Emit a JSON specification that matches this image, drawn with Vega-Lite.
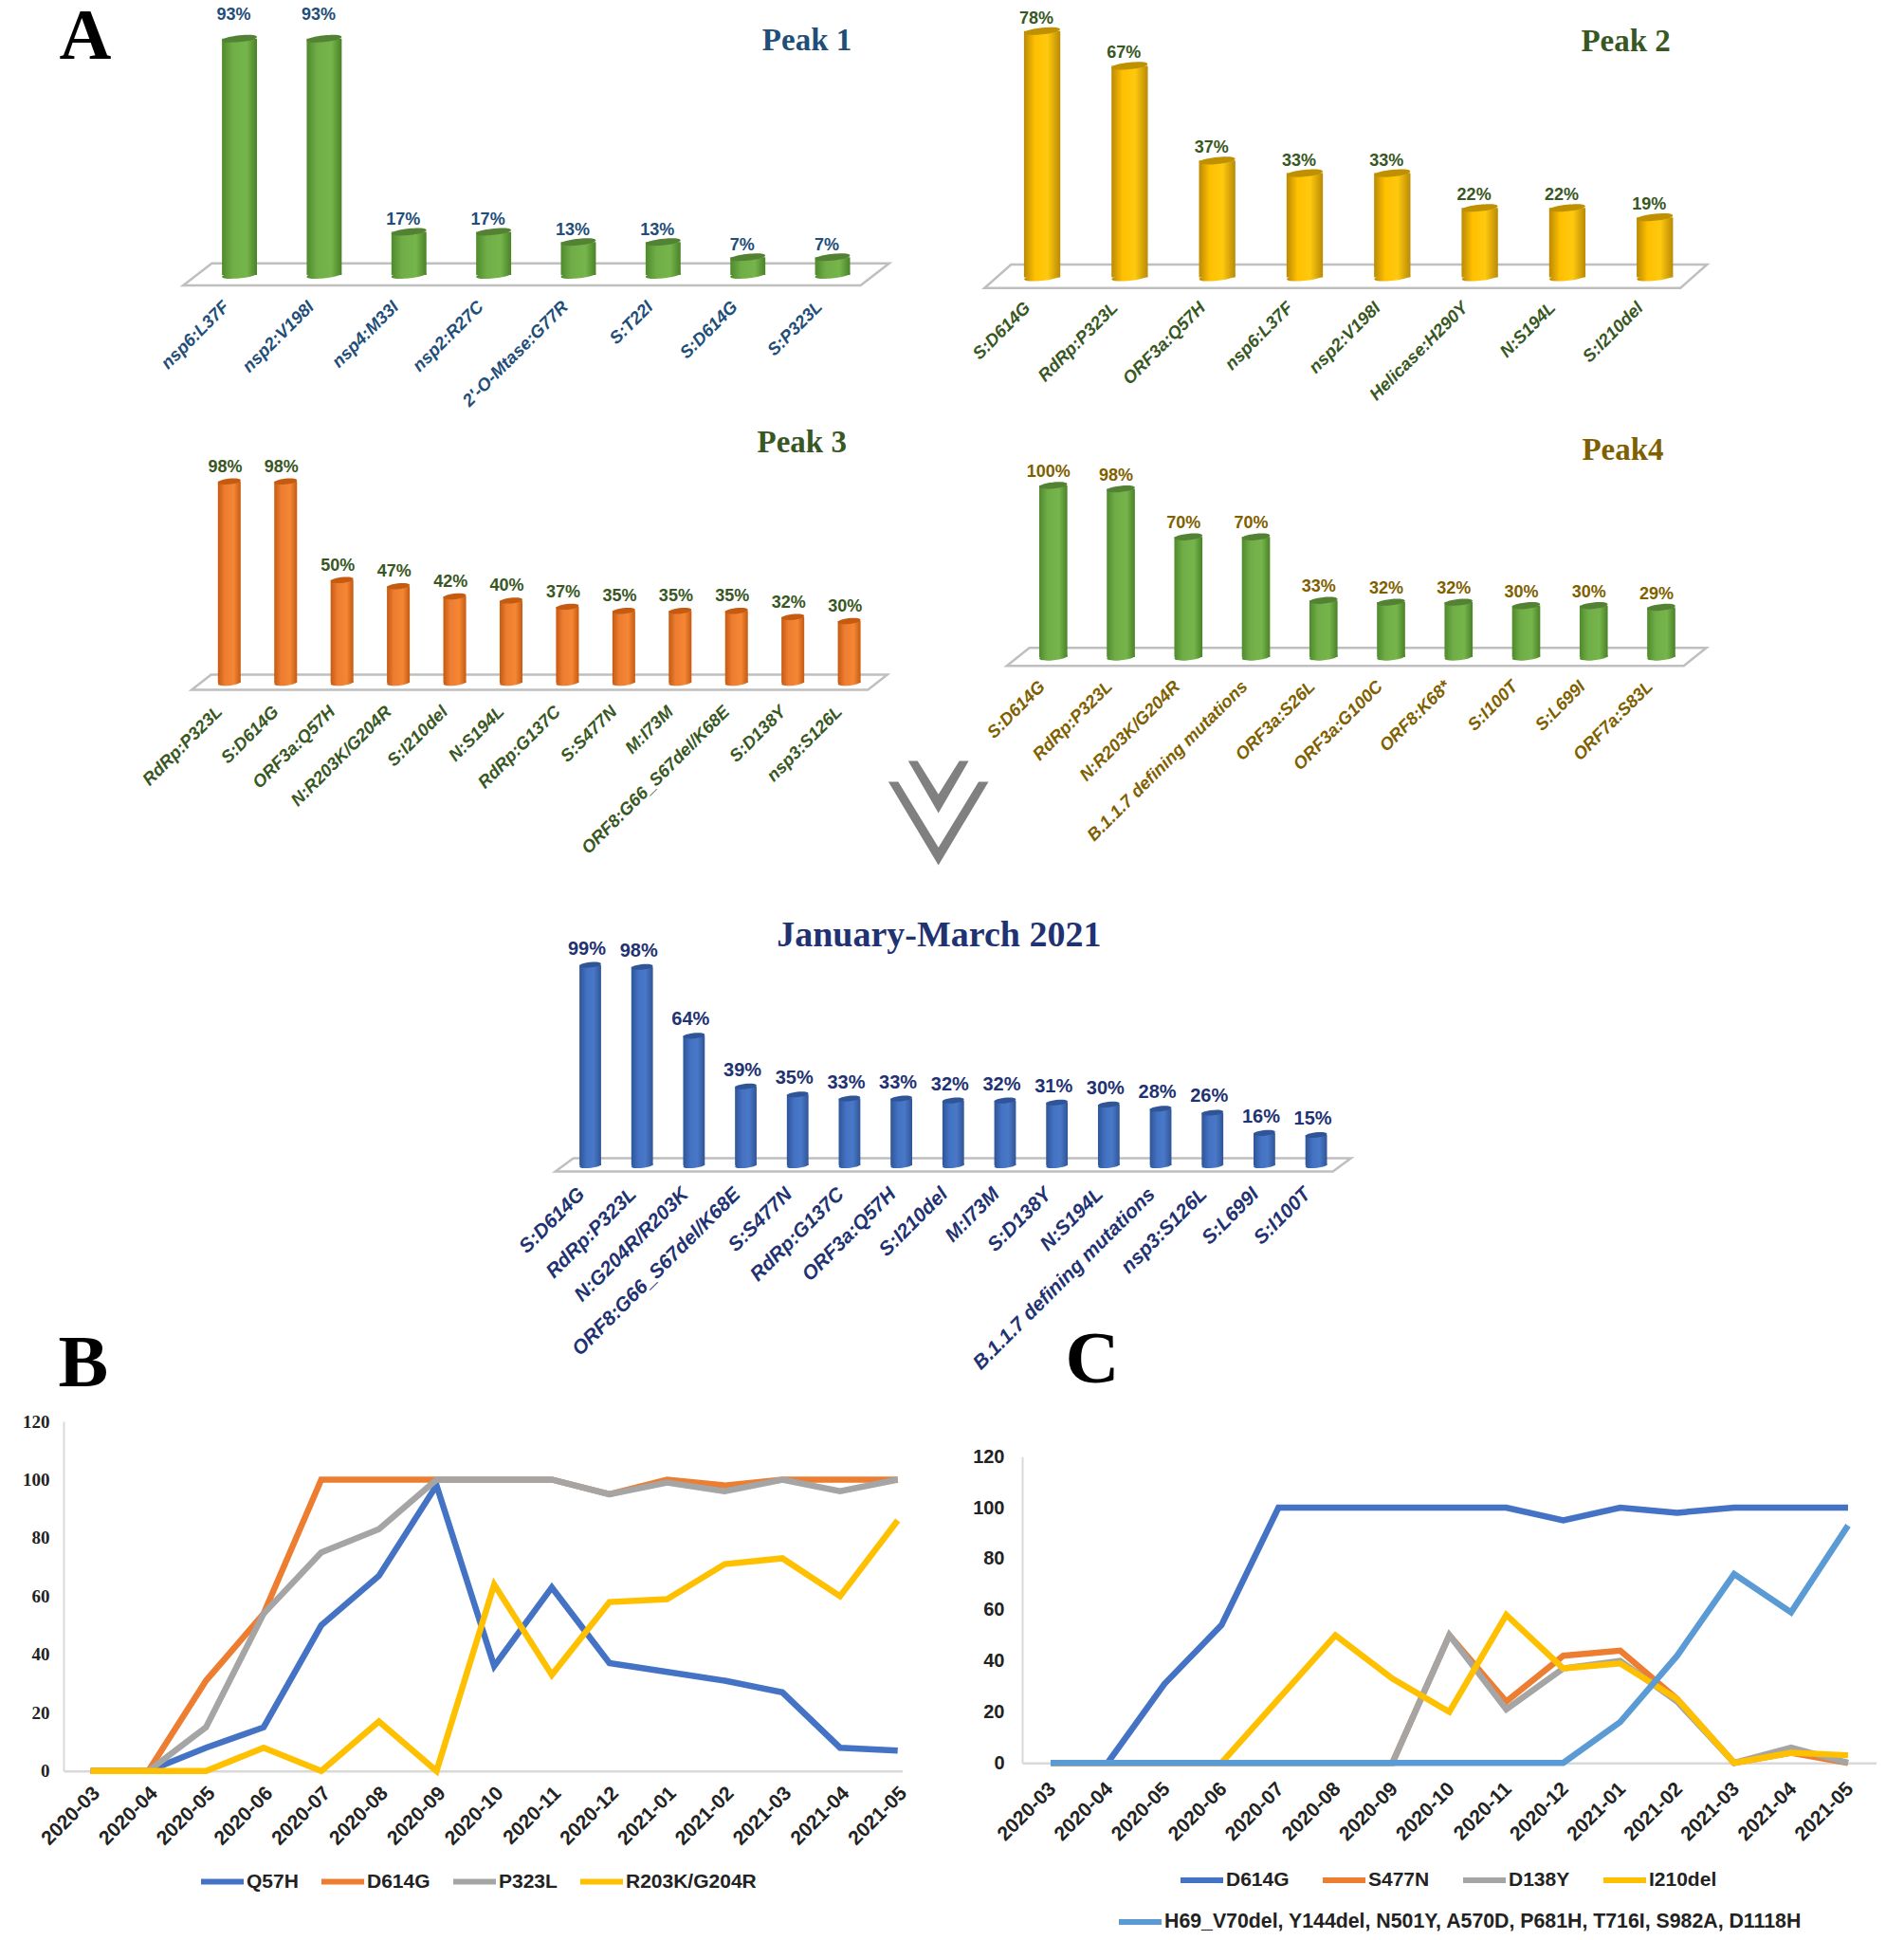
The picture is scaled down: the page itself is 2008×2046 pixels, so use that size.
{"$schema":"https://vega.github.io/schema/vega-lite/v6.json","background":"white","padding":{"left":23,"top":0,"right":0,"bottom":0},"columns":2,"bounds":"flush","spacing":0,"config":{"view":{"stroke":null}},
"datasets":{
"lineB":[
{"month":"2020-03","series":"Q57H","pct":0},{"month":"2020-04","series":"Q57H","pct":0},{"month":"2020-05","series":"Q57H","pct":8},{"month":"2020-06","series":"Q57H","pct":15},{"month":"2020-07","series":"Q57H","pct":50},{"month":"2020-08","series":"Q57H","pct":67},{"month":"2020-09","series":"Q57H","pct":98},{"month":"2020-10","series":"Q57H","pct":36},{"month":"2020-11","series":"Q57H","pct":63},{"month":"2020-12","series":"Q57H","pct":37},{"month":"2021-01","series":"Q57H","pct":34},{"month":"2021-02","series":"Q57H","pct":31},{"month":"2021-03","series":"Q57H","pct":27},{"month":"2021-04","series":"Q57H","pct":8},{"month":"2021-05","series":"Q57H","pct":7},
{"month":"2020-03","series":"D614G","pct":0},{"month":"2020-04","series":"D614G","pct":0},{"month":"2020-05","series":"D614G","pct":31},{"month":"2020-06","series":"D614G","pct":54},{"month":"2020-07","series":"D614G","pct":100},{"month":"2020-08","series":"D614G","pct":100},{"month":"2020-09","series":"D614G","pct":100},{"month":"2020-10","series":"D614G","pct":100},{"month":"2020-11","series":"D614G","pct":100},{"month":"2020-12","series":"D614G","pct":95},{"month":"2021-01","series":"D614G","pct":100},{"month":"2021-02","series":"D614G","pct":98},{"month":"2021-03","series":"D614G","pct":100},{"month":"2021-04","series":"D614G","pct":100},{"month":"2021-05","series":"D614G","pct":100},
{"month":"2020-03","series":"P323L","pct":0},{"month":"2020-04","series":"P323L","pct":0},{"month":"2020-05","series":"P323L","pct":15},{"month":"2020-06","series":"P323L","pct":54},{"month":"2020-07","series":"P323L","pct":75},{"month":"2020-08","series":"P323L","pct":83},{"month":"2020-09","series":"P323L","pct":100},{"month":"2020-10","series":"P323L","pct":100},{"month":"2020-11","series":"P323L","pct":100},{"month":"2020-12","series":"P323L","pct":95},{"month":"2021-01","series":"P323L","pct":99},{"month":"2021-02","series":"P323L","pct":96},{"month":"2021-03","series":"P323L","pct":100},{"month":"2021-04","series":"P323L","pct":96},{"month":"2021-05","series":"P323L","pct":100},
{"month":"2020-03","series":"R203K/G204R","pct":0},{"month":"2020-04","series":"R203K/G204R","pct":0},{"month":"2020-05","series":"R203K/G204R","pct":0},{"month":"2020-06","series":"R203K/G204R","pct":8},{"month":"2020-07","series":"R203K/G204R","pct":0},{"month":"2020-08","series":"R203K/G204R","pct":17},{"month":"2020-09","series":"R203K/G204R","pct":0},{"month":"2020-10","series":"R203K/G204R","pct":64},{"month":"2020-11","series":"R203K/G204R","pct":33},{"month":"2020-12","series":"R203K/G204R","pct":58},{"month":"2021-01","series":"R203K/G204R","pct":59},{"month":"2021-02","series":"R203K/G204R","pct":71},{"month":"2021-03","series":"R203K/G204R","pct":73},{"month":"2021-04","series":"R203K/G204R","pct":60},{"month":"2021-05","series":"R203K/G204R","pct":86}],
"lineC":[
{"month":"2020-03","series":"D614G","pct":0},{"month":"2020-04","series":"D614G","pct":0},{"month":"2020-05","series":"D614G","pct":31},{"month":"2020-06","series":"D614G","pct":54},{"month":"2020-07","series":"D614G","pct":100},{"month":"2020-08","series":"D614G","pct":100},{"month":"2020-09","series":"D614G","pct":100},{"month":"2020-10","series":"D614G","pct":100},{"month":"2020-11","series":"D614G","pct":100},{"month":"2020-12","series":"D614G","pct":95},{"month":"2021-01","series":"D614G","pct":100},{"month":"2021-02","series":"D614G","pct":98},{"month":"2021-03","series":"D614G","pct":100},{"month":"2021-04","series":"D614G","pct":100},{"month":"2021-05","series":"D614G","pct":100},
{"month":"2020-03","series":"S477N","pct":0},{"month":"2020-04","series":"S477N","pct":0},{"month":"2020-05","series":"S477N","pct":0},{"month":"2020-06","series":"S477N","pct":0},{"month":"2020-07","series":"S477N","pct":0},{"month":"2020-08","series":"S477N","pct":0},{"month":"2020-09","series":"S477N","pct":0},{"month":"2020-10","series":"S477N","pct":50},{"month":"2020-11","series":"S477N","pct":24},{"month":"2020-12","series":"S477N","pct":42},{"month":"2021-01","series":"S477N","pct":44},{"month":"2021-02","series":"S477N","pct":25},{"month":"2021-03","series":"S477N","pct":0},{"month":"2021-04","series":"S477N","pct":4},{"month":"2021-05","series":"S477N","pct":0},
{"month":"2020-03","series":"D138Y","pct":0},{"month":"2020-04","series":"D138Y","pct":0},{"month":"2020-05","series":"D138Y","pct":0},{"month":"2020-06","series":"D138Y","pct":0},{"month":"2020-07","series":"D138Y","pct":0},{"month":"2020-08","series":"D138Y","pct":0},{"month":"2020-09","series":"D138Y","pct":0},{"month":"2020-10","series":"D138Y","pct":50},{"month":"2020-11","series":"D138Y","pct":21},{"month":"2020-12","series":"D138Y","pct":37},{"month":"2021-01","series":"D138Y","pct":40},{"month":"2021-02","series":"D138Y","pct":24},{"month":"2021-03","series":"D138Y","pct":0},{"month":"2021-04","series":"D138Y","pct":6},{"month":"2021-05","series":"D138Y","pct":0},
{"month":"2020-03","series":"I210del","pct":0},{"month":"2020-04","series":"I210del","pct":0},{"month":"2020-05","series":"I210del","pct":0},{"month":"2020-06","series":"I210del","pct":0},{"month":"2020-07","series":"I210del","pct":25},{"month":"2020-08","series":"I210del","pct":50},{"month":"2020-09","series":"I210del","pct":33},{"month":"2020-10","series":"I210del","pct":20},{"month":"2020-11","series":"I210del","pct":58},{"month":"2020-12","series":"I210del","pct":37},{"month":"2021-01","series":"I210del","pct":39},{"month":"2021-02","series":"I210del","pct":25},{"month":"2021-03","series":"I210del","pct":0},{"month":"2021-04","series":"I210del","pct":4},{"month":"2021-05","series":"I210del","pct":3}],
"lineC2":[
{"month":"2020-03","series":"H69_V70del, Y144del, N501Y, A570D, P681H, T716I, S982A, D1118H","pct":0},{"month":"2020-04","series":"H69_V70del, Y144del, N501Y, A570D, P681H, T716I, S982A, D1118H","pct":0},{"month":"2020-05","series":"H69_V70del, Y144del, N501Y, A570D, P681H, T716I, S982A, D1118H","pct":0},{"month":"2020-06","series":"H69_V70del, Y144del, N501Y, A570D, P681H, T716I, S982A, D1118H","pct":0},{"month":"2020-07","series":"H69_V70del, Y144del, N501Y, A570D, P681H, T716I, S982A, D1118H","pct":0},{"month":"2020-08","series":"H69_V70del, Y144del, N501Y, A570D, P681H, T716I, S982A, D1118H","pct":0},{"month":"2020-09","series":"H69_V70del, Y144del, N501Y, A570D, P681H, T716I, S982A, D1118H","pct":0},{"month":"2020-10","series":"H69_V70del, Y144del, N501Y, A570D, P681H, T716I, S982A, D1118H","pct":0},{"month":"2020-11","series":"H69_V70del, Y144del, N501Y, A570D, P681H, T716I, S982A, D1118H","pct":0},{"month":"2020-12","series":"H69_V70del, Y144del, N501Y, A570D, P681H, T716I, S982A, D1118H","pct":0},{"month":"2021-01","series":"H69_V70del, Y144del, N501Y, A570D, P681H, T716I, S982A, D1118H","pct":16},{"month":"2021-02","series":"H69_V70del, Y144del, N501Y, A570D, P681H, T716I, S982A, D1118H","pct":42},{"month":"2021-03","series":"H69_V70del, Y144del, N501Y, A570D, P681H, T716I, S982A, D1118H","pct":74},{"month":"2021-04","series":"H69_V70del, Y144del, N501Y, A570D, P681H, T716I, S982A, D1118H","pct":59},{"month":"2021-05","series":"H69_V70del, Y144del, N501Y, A570D, P681H, T716I, S982A, D1118H","pct":93}]
},
"concat":[
{"width":829.5,"height":289,"data":{"values":[{"mutation":"nsp6:L37F","pct":93,"label":"93%"},{"mutation":"nsp2:V198I","pct":93,"label":"93%"},{"mutation":"nsp4:M33I","pct":17,"label":"17%"},{"mutation":"nsp2:R27C","pct":17,"label":"17%"},{"mutation":"2'-O-Mtase:G77R","pct":13,"label":"13%"},{"mutation":"S:T22I","pct":13,"label":"13%"},{"mutation":"S:D614G","pct":7,"label":"7%"},{"mutation":"S:P323L","pct":7,"label":"7%"}]},
"encoding":{"x":{"field":"mutation","type":"nominal","sort":null,"title":null,"scale":{"domain":["nsp6:L37F","nsp2:V198I","nsp4:M33I","nsp2:R27C","2'-O-Mtase:G77R","S:T22I","S:D614G","S:P323L"],"range":[167.1,829.5],"paddingInner":0.587,"paddingOuter":0},"axis":{"domain":false,"ticks":false,"grid":false,"labelAngle":-45,"labelAlign":"right","labelBaseline":"middle","labelFont":"Liberation Sans","labelFontStyle":"italic","labelFontWeight":"bold","labelFontSize":18.5,"labelColor":"#1f4e79","labelPadding":30,"labelOffset":-14,"labelLimit":400,"labelOverlap":false,"labelBound":false}},"y":{"field":"pct","type":"quantitative","title":null,"scale":{"domain":[0,107.84],"nice":false},"axis":null}},
"layer":[
{"transform":[{"filter":"datum.mutation==='nsp2:R27C'"}],"mark":{"type":"point","filled":true,"opacity":1,"fill":"white","stroke":"#bfbfbf","strokeWidth":2.5,"size":554280,"shape":"M-1,0.0313L0.919,0.0313L1,-0.0313L-0.919,-0.0313Z","xOffset":44.85,"yOffset":-0.65},"encoding":{"y":{"datum":0,"type":"quantitative"}}},
{"mark":{"type":"bar","color":{"gradient":"linear","x1":0,"y1":0,"x2":1,"y2":0,"stops":[{"offset":0,"color":"#4f8a2c"},{"offset":0.3,"color":"#70ad47"},{"offset":0.7,"color":"#76b54b"},{"offset":1,"color":"#4a8228"}]}}},
{"mark":{"type":"point","filled":true,"opacity":1,"size":1369,"strokeWidth":0,"angle":-6,"shape":"M-1,0C-1,-0.25 1,-0.25 1,0C1,0.25 -1,0.25 -1,0Z","color":{"gradient":"linear","x1":0,"y1":0,"x2":1,"y2":0,"stops":[{"offset":0,"color":"#4f8a2c"},{"offset":0.3,"color":"#70ad47"},{"offset":0.7,"color":"#76b54b"},{"offset":1,"color":"#4a8228"}]}},"encoding":{"y":{"datum":0,"type":"quantitative"}}},
{"mark":{"type":"point","filled":true,"opacity":1,"size":1369,"strokeWidth":0,"angle":-6,"color":"#548235","shape":"M-1,0C-1,-0.25 1,-0.25 1,0C1,0.25 -1,0.25 -1,0Z"}},
{"transform":[{"filter":"datum.pct<90"}],"mark":{"type":"text","font":"Liberation Sans","fontWeight":"bold","fontSize":18,"color":"#1f4e79","baseline":"alphabetic","dx":-6,"dy":-7},"encoding":{"text":{"field":"label"}}},
{"transform":[{"filter":"datum.pct>90"}],"mark":{"type":"text","font":"Liberation Sans","fontWeight":"bold","fontSize":18,"color":"#1f4e79","baseline":"alphabetic","dx":-6,"dy":-20},"encoding":{"text":{"field":"label"}}},
{"transform":[{"filter":"datum.mutation==='S:P323L'"}],"mark":{"type":"text","font":"Liberation Serif","fontWeight":"bold","fontSize":33,"color":"#1f4e79","baseline":"alphabetic","dx":-27,"text":"Peak 1"},"encoding":{"y":{"datum":88.5,"type":"quantitative"}}},
{"transform":[{"filter":"datum.mutation==='nsp6:L37F'"}],"mark":{"type":"text","font":"Liberation Serif","fontWeight":"bold","fontSize":76,"color":"#000000","baseline":"alphabetic","dx":-162.6,"text":"A"},"encoding":{"y":{"datum":85.1,"type":"quantitative"}}}
]},
{"width":686.4,"height":291.5,"data":{"values":[{"mutation":"S:D614G","pct":78,"label":"78%"},{"mutation":"RdRp:P323L","pct":67,"label":"67%"},{"mutation":"ORF3a:Q57H","pct":37,"label":"37%"},{"mutation":"nsp6:L37F","pct":33,"label":"33%"},{"mutation":"nsp2:V198I","pct":33,"label":"33%"},{"mutation":"Helicase:H290Y","pct":22,"label":"22%"},{"mutation":"N:S194L","pct":22,"label":"22%"},{"mutation":"S:I210del","pct":19,"label":"19%"}]},
"encoding":{"x":{"field":"mutation","type":"nominal","sort":null,"title":null,"scale":{"domain":["S:D614G","RdRp:P323L","ORF3a:Q57H","nsp6:L37F","nsp2:V198I","Helicase:H290Y","N:S194L","S:I210del"],"range":[1.9,686.4],"paddingInner":0.585,"paddingOuter":0},"axis":{"domain":false,"ticks":false,"grid":false,"labelAngle":-45,"labelAlign":"right","labelBaseline":"middle","labelFont":"Liberation Sans","labelFontStyle":"italic","labelFontWeight":"bold","labelFontSize":18.5,"labelColor":"#385723","labelPadding":28.5,"labelOffset":-15.6,"labelLimit":400,"labelOverlap":false,"labelBound":false}},"y":{"field":"pct","type":"quantitative","title":null,"scale":{"domain":[0,87.54],"nice":false},"axis":null}},
"layer":[
{"transform":[{"filter":"datum.mutation==='nsp6:L37F'"}],"mark":{"type":"point","filled":true,"opacity":1,"fill":"white","stroke":"#bfbfbf","strokeWidth":2.5,"size":580644,"shape":"M-1,0.0324L0.9265,0.0324L1,-0.0324L-0.9265,-0.0324Z","xOffset":43.3,"yOffset":-1.15},"encoding":{"y":{"datum":0,"type":"quantitative"}}},
{"mark":{"type":"bar","color":{"gradient":"linear","x1":0,"y1":0,"x2":1,"y2":0,"stops":[{"offset":0,"color":"#b98a06"},{"offset":0.3,"color":"#ffc000"},{"offset":0.65,"color":"#ffc90e"},{"offset":1,"color":"#b98a06"}]}}},
{"mark":{"type":"point","filled":true,"opacity":1,"size":1444,"strokeWidth":0,"angle":-6,"shape":"M-1,0C-1,-0.25 1,-0.25 1,0C1,0.25 -1,0.25 -1,0Z","color":{"gradient":"linear","x1":0,"y1":0,"x2":1,"y2":0,"stops":[{"offset":0,"color":"#b98a06"},{"offset":0.3,"color":"#ffc000"},{"offset":0.65,"color":"#ffc90e"},{"offset":1,"color":"#b98a06"}]}},"encoding":{"y":{"datum":0,"type":"quantitative"}}},
{"mark":{"type":"point","filled":true,"opacity":1,"size":1444,"strokeWidth":0,"angle":-6,"color":"#bf9000","shape":"M-1,0C-1,-0.25 1,-0.25 1,0C1,0.25 -1,0.25 -1,0Z"}},
{"mark":{"type":"text","font":"Liberation Sans","fontWeight":"bold","fontSize":18,"color":"#385723","baseline":"alphabetic","dx":-6,"dy":-8},"encoding":{"text":{"field":"label"}}},
{"transform":[{"filter":"datum.mutation==='S:I210del'"}],"mark":{"type":"text","font":"Liberation Serif","fontWeight":"bold","fontSize":33,"color":"#385723","baseline":"alphabetic","dx":-30.6,"text":"Peak 2"},"encoding":{"y":{"datum":71.5,"type":"quantitative"}}}
]},
{"width":840.6,"height":427,"data":{"values":[{"mutation":"RdRp:P323L","pct":98,"label":"98%"},{"mutation":"S:D614G","pct":98,"label":"98%"},{"mutation":"ORF3a:Q57H","pct":50,"label":"50%"},{"mutation":"N:R203K/G204R","pct":47,"label":"47%"},{"mutation":"S:I210del","pct":42,"label":"42%"},{"mutation":"N:S194L","pct":40,"label":"40%"},{"mutation":"RdRp:G137C","pct":37,"label":"37%"},{"mutation":"S:S477N","pct":35,"label":"35%"},{"mutation":"M:I73M","pct":35,"label":"35%"},{"mutation":"ORF8:G66_S67del/K68E","pct":35,"label":"35%"},{"mutation":"S:D138Y","pct":32,"label":"32%"},{"mutation":"nsp3:S126L","pct":30,"label":"30%"}]},
"encoding":{"x":{"field":"mutation","type":"nominal","sort":null,"title":null,"scale":{"domain":["RdRp:P323L","S:D614G","ORF3a:Q57H","N:R203K/G204R","S:I210del","N:S194L","RdRp:G137C","S:S477N","M:I73M","ORF8:G66_S67del/K68E","S:D138Y","nsp3:S126L"],"range":[162.8,840.6],"paddingInner":0.596,"paddingOuter":0},"axis":{"domain":false,"ticks":false,"grid":false,"labelAngle":-45,"labelAlign":"right","labelBaseline":"middle","labelFont":"Liberation Sans","labelFontStyle":"italic","labelFontWeight":"bold","labelFontSize":18.5,"labelColor":"#385723","labelPadding":27,"labelOffset":-10.5,"labelLimit":400,"labelOverlap":false,"labelBound":false}},"y":{"field":"pct","type":"quantitative","title":null,"scale":{"domain":[0,197.2],"nice":false},"axis":null}},
"layer":[
{"transform":[{"filter":"datum.mutation==='N:S194L'"}],"mark":{"type":"point","filled":true,"opacity":1,"fill":"white","stroke":"#bfbfbf","strokeWidth":2.5,"size":538316,"shape":"M-1,0.0218L0.944,0.0218L1,-0.0218L-0.944,-0.0218Z","xOffset":30,"yOffset":-0.5},"encoding":{"y":{"datum":0,"type":"quantitative"}}},
{"mark":{"type":"bar","color":{"gradient":"linear","x1":0,"y1":0,"x2":1,"y2":0,"stops":[{"offset":0,"color":"#c55a11"},{"offset":0.3,"color":"#ed7d31"},{"offset":0.7,"color":"#f58634"},{"offset":1,"color":"#c55a11"}]}}},
{"mark":{"type":"point","filled":true,"opacity":1,"size":576,"strokeWidth":0,"angle":-6,"shape":"M-1,0C-1,-0.33 1,-0.33 1,0C1,0.33 -1,0.33 -1,0Z","color":{"gradient":"linear","x1":0,"y1":0,"x2":1,"y2":0,"stops":[{"offset":0,"color":"#c55a11"},{"offset":0.3,"color":"#ed7d31"},{"offset":0.7,"color":"#f58634"},{"offset":1,"color":"#c55a11"}]}},"encoding":{"y":{"datum":0,"type":"quantitative"}}},
{"mark":{"type":"point","filled":true,"opacity":1,"size":576,"strokeWidth":0,"angle":-6,"color":"#c55a11","shape":"M-1,0C-1,-0.33 1,-0.33 1,0C1,0.33 -1,0.33 -1,0Z"}},
{"mark":{"type":"text","font":"Liberation Sans","fontWeight":"bold","fontSize":18,"color":"#385723","baseline":"alphabetic","dx":-4.4,"dy":-10},"encoding":{"text":{"field":"label"}}},
{"transform":[{"filter":"datum.mutation==='nsp3:S126L'"}],"mark":{"type":"text","font":"Liberation Serif","fontWeight":"bold","fontSize":33,"color":"#385723","baseline":"alphabetic","dx":-49.9,"text":"Peak 3"},"encoding":{"y":{"datum":112,"type":"quantitative"}}}
]},
{"width":688.8,"height":400,"data":{"values":[{"mutation":"S:D614G","pct":100,"label":"100%"},{"mutation":"RdRp:P323L","pct":98,"label":"98%"},{"mutation":"N:R203K/G204R","pct":70,"label":"70%"},{"mutation":"B.1.1.7 defining mutations","pct":70,"label":"70%"},{"mutation":"ORF3a:S26L","pct":33,"label":"33%"},{"mutation":"ORF3a:G100C","pct":32,"label":"32%"},{"mutation":"ORF8:K68*","pct":32,"label":"32%"},{"mutation":"S:I100T","pct":30,"label":"30%"},{"mutation":"S:L699I","pct":30,"label":"30%"},{"mutation":"ORF7a:S83L","pct":29,"label":"29%"}]},
"encoding":{"x":{"field":"mutation","type":"nominal","sort":null,"title":null,"scale":{"domain":["S:D614G","RdRp:P323L","N:R203K/G204R","B.1.1.7 defining mutations","ORF3a:S26L","ORF3a:G100C","ORF8:K68*","S:I100T","S:L699I","ORF7a:S83L"],"range":[18,688.8],"paddingInner":0.584,"paddingOuter":0},"axis":{"domain":false,"ticks":false,"grid":false,"labelAngle":-45,"labelAlign":"right","labelBaseline":"middle","labelFont":"Liberation Sans","labelFontStyle":"italic","labelFontWeight":"bold","labelFontSize":18.5,"labelColor":"#7f6000","labelPadding":27.5,"labelOffset":-12,"labelLimit":400,"labelOverlap":false,"labelBound":false}},"y":{"field":"pct","type":"quantitative","title":null,"scale":{"domain":[0,221],"nice":false},"axis":null}},
"layer":[
{"transform":[{"filter":"datum.mutation==='ORF3a:S26L'"}],"mark":{"type":"point","filled":true,"opacity":1,"fill":"white","stroke":"#bfbfbf","strokeWidth":2.5,"size":544349,"shape":"M-1,0.0258L0.9355,0.0258L1,-0.0258L-0.9355,-0.0258Z","xOffset":34.9,"yOffset":-0.3},"encoding":{"y":{"datum":0,"type":"quantitative"}}},
{"mark":{"type":"bar","color":{"gradient":"linear","x1":0,"y1":0,"x2":1,"y2":0,"stops":[{"offset":0,"color":"#4f8a2c"},{"offset":0.3,"color":"#70ad47"},{"offset":0.7,"color":"#76b54b"},{"offset":1,"color":"#4a8228"}]}}},
{"mark":{"type":"point","filled":true,"opacity":1,"size":876,"strokeWidth":0,"angle":-6,"shape":"M-1,0C-1,-0.3 1,-0.3 1,0C1,0.3 -1,0.3 -1,0Z","color":{"gradient":"linear","x1":0,"y1":0,"x2":1,"y2":0,"stops":[{"offset":0,"color":"#4f8a2c"},{"offset":0.3,"color":"#70ad47"},{"offset":0.7,"color":"#76b54b"},{"offset":1,"color":"#4a8228"}]}},"encoding":{"y":{"datum":0,"type":"quantitative"}}},
{"mark":{"type":"point","filled":true,"opacity":1,"size":876,"strokeWidth":0,"angle":-6,"color":"#548235","shape":"M-1,0C-1,-0.3 1,-0.3 1,0C1,0.3 -1,0.3 -1,0Z"}},
{"mark":{"type":"text","font":"Liberation Sans","fontWeight":"bold","fontSize":18,"color":"#7f6000","baseline":"alphabetic","dx":-5,"dy":-9},"encoding":{"text":{"field":"label"}}},
{"transform":[{"filter":"datum.mutation==='ORF7a:S83L'"}],"mark":{"type":"text","font":"Liberation Serif","fontWeight":"bold","fontSize":33,"color":"#7f6000","baseline":"alphabetic","dx":-40.5,"text":"Peak4"},"encoding":{"y":{"datum":115,"type":"quantitative"}}}
]},
{"width":1011,"height":509,"data":{"values":[{"mutation":"S:D614G","pct":99,"label":"99%"},{"mutation":"RdRp:P323L","pct":98,"label":"98%"},{"mutation":"N:G204R/R203K","pct":64,"label":"64%"},{"mutation":"ORF8:G66_S67del/K68E","pct":39,"label":"39%"},{"mutation":"S:S477N","pct":35,"label":"35%"},{"mutation":"RdRp:G137C","pct":33,"label":"33%"},{"mutation":"ORF3a:Q57H","pct":33,"label":"33%"},{"mutation":"S:I210del","pct":32,"label":"32%"},{"mutation":"M:I73M","pct":32,"label":"32%"},{"mutation":"S:D138Y","pct":31,"label":"31%"},{"mutation":"N:S194L","pct":30,"label":"30%"},{"mutation":"B.1.1.7 defining mutations","pct":28,"label":"28%"},{"mutation":"nsp3:S126L","pct":26,"label":"26%"},{"mutation":"S:L699I","pct":16,"label":"16%"},{"mutation":"S:I100T","pct":15,"label":"15%"}]},
"encoding":{"x":{"field":"mutation","type":"nominal","sort":null,"title":null,"scale":{"domain":["S:D614G","RdRp:P323L","N:G204R/R203K","ORF8:G66_S67del/K68E","S:S477N","RdRp:G137C","ORF3a:Q57H","S:I210del","M:I73M","S:D138Y","N:S194L","B.1.1.7 defining mutations","nsp3:S126L","S:L699I","S:I100T"],"range":[544.1,1332.5],"paddingInner":0.583,"paddingOuter":0},"axis":{"domain":false,"ticks":false,"grid":false,"labelAngle":-45,"labelAlign":"right","labelBaseline":"middle","labelFont":"Liberation Sans","labelFontStyle":"italic","labelFontWeight":"bold","labelFontSize":21,"labelColor":"#1f3272","labelPadding":27,"labelOffset":-9,"labelLimit":500,"labelOverlap":false,"labelBound":false}},"y":{"field":"pct","type":"quantitative","title":null,"scale":{"domain":[0,238.4],"nice":false},"axis":null}},
"layer":[
{"transform":[{"filter":"datum.mutation==='S:I210del'"}],"mark":{"type":"point","filled":true,"opacity":1,"fill":"white","stroke":"#bfbfbf","strokeWidth":2.5,"size":703921,"shape":"M-1,0.0167L0.9547,0.0167L1,-0.0167L-0.9547,-0.0167Z","xOffset":-0.1,"yOffset":-0.5},"encoding":{"y":{"datum":0,"type":"quantitative"}}},
{"mark":{"type":"bar","color":{"gradient":"linear","x1":0,"y1":0,"x2":1,"y2":0,"stops":[{"offset":0,"color":"#2f5597"},{"offset":0.35,"color":"#4472c4"},{"offset":0.65,"color":"#4a78c8"},{"offset":1,"color":"#2f5597"}]}}},
{"mark":{"type":"point","filled":true,"opacity":1,"size":520,"strokeWidth":0,"angle":-6,"shape":"M-1,0C-1,-0.33 1,-0.33 1,0C1,0.33 -1,0.33 -1,0Z","color":{"gradient":"linear","x1":0,"y1":0,"x2":1,"y2":0,"stops":[{"offset":0,"color":"#2f5597"},{"offset":0.35,"color":"#4472c4"},{"offset":0.65,"color":"#4a78c8"},{"offset":1,"color":"#2f5597"}]}},"encoding":{"y":{"datum":0,"type":"quantitative"}}},
{"mark":{"type":"point","filled":true,"opacity":1,"size":520,"strokeWidth":0,"angle":-6,"color":"#2f5597","shape":"M-1,0C-1,-0.33 1,-0.33 1,0C1,0.33 -1,0.33 -1,0Z"}},
{"mark":{"type":"text","font":"Liberation Sans","fontWeight":"bold","fontSize":20,"color":"#1f3272","baseline":"alphabetic","dx":-3.5,"dy":-11},"encoding":{"text":{"field":"label"}}},
{"transform":[{"filter":"datum.mutation==='S:I210del'"}],"mark":{"type":"text","font":"Liberation Serif","fontWeight":"bold","fontSize":38,"color":"#1f3272","baseline":"alphabetic","dx":-15,"text":"January-March 2021"},"encoding":{"y":{"datum":108,"type":"quantitative"}}},
{"transform":[{"filter":"datum.mutation==='S:I210del'"}],"mark":{"type":"point","filled":true,"opacity":1,"color":"#808080","strokeWidth":0,"size":12100,"xOffset":-15.6,"shape":"M-0.96,-0.6L-0.77,-0.6L0,0.66L0.77,-0.6L0.96,-0.6L0,1ZM-0.58,-1L-0.4,-1L0,-0.36L0.4,-1L0.58,-1L0,0Z"},"encoding":{"y":{"datum":174,"type":"quantitative"}}}
]},
{"width":1,"height":1,"data":{"values":[{"part":"gap"}]},"mark":{"type":"rule","opacity":0},"encoding":{}},
{"width":1,"height":269.5,"data":{"values":[{"part":"gap"}]},"mark":{"type":"rule","opacity":0},"encoding":{}},
{"width":1,"height":1,"data":{"values":[{"part":"gap"}]},"mark":{"type":"rule","opacity":0},"encoding":{}},
{"width":884.5,"height":368.8,"data":{"name":"lineB"},"encoding":{"x":{"field":"month","type":"ordinal","sort":null,"title":null,"scale":{"type":"point","padding":0.275,"align":0.857},"axis":{"domainColor":"#d9d9d9","domainWidth":2.5,"ticks":false,"grid":false,"labelAngle":-45,"labelAlign":"right","labelBaseline":"middle","labelFont":"Liberation Sans","labelFontWeight":"bold","labelFontSize":21,"labelColor":"#222222","labelPadding":20,"labelOffset":6,"labelOverlap":false,"labelBound":false}},"y":{"field":"pct","type":"quantitative","title":null,"scale":{"domain":[0,120],"nice":false},"axis":{"values":[0,20,40,60,80,100,120],"domainColor":"#d9d9d9","domainWidth":2,"ticks":false,"grid":false,"labelFont":"Liberation Serif","labelFontWeight":"bold","labelFontSize":19,"labelColor":"#222222","labelPadding":15}}},
"resolve":{"scale":{"color":"independent"}},
"layer":[
{"mark":{"type":"line","strokeWidth":6.5,"strokeJoin":"miter"},"encoding":{"color":{"field":"series","type":"nominal","scale":{"domain":["Q57H","D614G","P323L","R203K/G204R"],"range":["#4472c4","#ed7d31","#a5a5a5","#ffc000"]},"legend":{"orient":"none","legendX":142,"legendY":460,"direction":"horizontal","title":null,"symbolType":"stroke","symbolSize":2025,"symbolStrokeWidth":6,"labelFont":"Liberation Sans","labelFontWeight":"bold","labelFontSize":21,"labelColor":"#222222","labelOffset":0,"columnPadding":12,"gridAlign":"none","labelLimit":600}}}},
{"transform":[{"filter":"datum.month==='2020-03'&&datum.series==='Q57H'"}],"mark":{"type":"text","font":"Liberation Serif","fontWeight":"bold","fontSize":79,"color":"#000000","baseline":"alphabetic","dx":-7.7,"text":"B"},"encoding":{"y":{"datum":132,"type":"quantitative"}}}
]},
{"width":901,"height":360.2,"data":{"name":"lineC"},"encoding":{"x":{"field":"month","type":"ordinal","sort":null,"title":null,"scale":{"type":"point","padding":0.5},"axis":{"domainColor":"#d9d9d9","domainWidth":2.5,"ticks":false,"grid":false,"labelAngle":-45,"labelAlign":"right","labelBaseline":"middle","labelFont":"Liberation Sans","labelFontWeight":"bold","labelFontSize":21,"labelColor":"#222222","labelPadding":24,"labelOffset":2,"labelOverlap":false,"labelBound":false}},"y":{"field":"pct","type":"quantitative","title":null,"scale":{"domain":[0,120],"range":[360.2,37.2],"nice":false},"axis":{"values":[0,20,40,60,80,100,120],"domainColor":"#d9d9d9","domainWidth":2,"ticks":false,"grid":false,"labelFont":"Liberation Sans","labelFontWeight":"bold","labelFontSize":20,"labelColor":"#222222","labelPadding":19}}},
"resolve":{"scale":{"color":"independent"}},
"layer":[
{"mark":{"type":"line","strokeWidth":6.5,"strokeJoin":"miter"},"encoding":{"color":{"field":"series","type":"nominal","scale":{"domain":["D614G","S477N","D138Y","I210del"],"range":["#4472c4","#ed7d31","#a5a5a5","#ffc000"]},"legend":{"orient":"none","legendX":164,"legendY":458.6,"direction":"horizontal","title":null,"symbolType":"stroke","symbolSize":2025,"symbolStrokeWidth":6,"labelFont":"Liberation Sans","labelFontWeight":"bold","labelFontSize":21,"labelColor":"#222222","labelOffset":0,"columnPadding":23,"gridAlign":"none","labelLimit":600}}}},
{"data":{"name":"lineC2"},"mark":{"type":"line","strokeWidth":6.5,"strokeJoin":"miter"},"encoding":{"color":{"field":"series","type":"nominal","scale":{"domain":["H69_V70del, Y144del, N501Y, A570D, P681H, T716I, S982A, D1118H"],"range":["#5b9bd5"]},"legend":{"orient":"none","legendX":99,"legendY":502.6,"direction":"horizontal","title":null,"symbolType":"stroke","symbolSize":2025,"symbolStrokeWidth":6,"labelFont":"Liberation Sans","labelFontWeight":"bold","labelFontSize":21.3,"labelColor":"#222222","labelOffset":0,"labelLimit":800}}}},
{"transform":[{"filter":"datum.month==='2020-03'&&datum.series==='D614G'"}],"mark":{"type":"text","font":"Liberation Serif","fontWeight":"bold","fontSize":79,"color":"#000000","baseline":"alphabetic","dx":44,"text":"C"},"encoding":{"y":{"datum":149,"type":"quantitative"}}}
]}
]}
